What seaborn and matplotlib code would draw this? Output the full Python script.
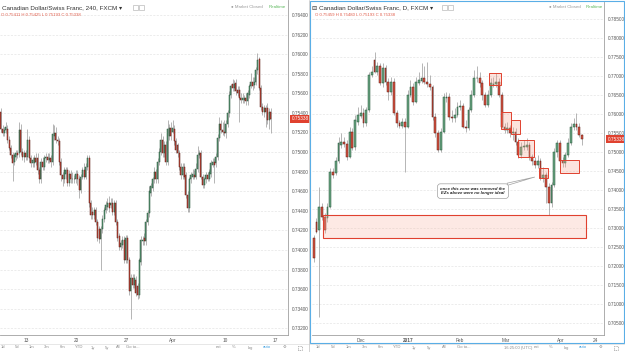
import numpy as np
import matplotlib
matplotlib.use('Agg')
import matplotlib.pyplot as plt
from matplotlib.patches import Rectangle
from matplotlib.lines import Line2D
from matplotlib.colors import to_rgba
from matplotlib.ticker import FormatStrFormatter
import seaborn as sns

# CAD/CHF 240 (4h candles, left panel)
left_open = [.7541, .7524, .7519, .7523, .7524, .7512, .7504, .7497, .7490, .7495,
             .7499, .7499, .7523, .7500, .7495, .7499, .7495, .7512, .7494, .7489,
             .7489, .7494, .7494, .7482, .7472, .7490, .7485, .7494, .7495, .7492,
             .7494, .7490, .7516, .7519, .7512, .7511, .7490, .7477, .7473, .7478,
             .7482, .7468, .7478, .7472, .7473, .7472, .7478, .7472, .7461, .7475,
             .7482, .7475, .7485, .7494, .7448, .7439, .7436, .7441, .7429, .7421,
             .7411, .7421, .7432, .7441, .7444, .7448, .7446, .7448, .7439, .7448,
             .7429, .7414, .7403, .7405, .7410, .7390, .7412, .7390, .7358, .7371,
             .7364, .7369, .7363, .7354, .7388, .7409, .7412, .7409, .7429, .7438,
             .7458, .7463, .7472, .7480, .7472, .7490, .7500, .7512, .7499, .7507,
             .7490, .7516, .7525, .7521, .7524, .7511, .7507, .7499, .7485, .7477,
             .7485, .7477, .7456, .7443, .7472, .7475, .7477, .7475, .7483, .7497,
             .7499, .7475, .7466, .7472, .7477, .7473, .7478, .7487, .7490, .7489,
             .7495, .7514, .7529, .7523, .7521, .7519, .7529, .7540, .7558, .7570,
             .7565, .7571, .7563, .7563, .7555, .7553, .7553, .7555, .7552, .7558,
             .7567, .7572, .7569, .7572, .7584, .7595, .7565, .7546, .7541, .7545,
             .7545, .7533, .7541]
left_high = [.7545, .7528, .7526, .7531, .7528, .7516, .7507, .7500, .7499, .7502,
             .7502, .7531, .7529, .7504, .7502, .7502, .7524, .7516, .7497, .7495,
             .7497, .7499, .7499, .7485, .7494, .7495, .7497, .7499, .7499, .7499,
             .7497, .7529, .7528, .7526, .7516, .7514, .7494, .7480, .7485, .7485,
             .7485, .7482, .7482, .7480, .7477, .7482, .7482, .7477, .7478, .7485,
             .7489, .7489, .7497, .7497, .7451, .7444, .7444, .7444, .7432, .7424,
             .7424, .7436, .7444, .7450, .7453, .7455, .7453, .7453, .7451, .7451,
             .7432, .7417, .7410, .7414, .7414, .7415, .7415, .7393, .7375, .7375,
             .7375, .7373, .7366, .7392, .7414, .7414, .7417, .7432, .7441, .7465,
             .7468, .7475, .7485, .7483, .7494, .7504, .7519, .7516, .7511, .7511,
             .7533, .7529, .7531, .7533, .7528, .7514, .7509, .7502, .7489, .7489,
             .7489, .7480, .7460, .7475, .7480, .7483, .7482, .7489, .7506, .7502,
             .7502, .7478, .7475, .7480, .7480, .7483, .7492, .7494, .7494, .7499,
             .7518, .7536, .7533, .7531, .7533, .7533, .7543, .7562, .7570, .7575,
             .7574, .7575, .7567, .7567, .7560, .7560, .7558, .7560, .7563, .7570,
             .7581, .7577, .7577, .7587, .7601, .7597, .7569, .7550, .7548, .7548,
             .7550, .7545, .7545]
left_low = [.7521, .7516, .7516, .7519, .7509, .7502, .7494, .7470, .7487, .7492,
            .7494, .7495, .7497, .7492, .7490, .7492, .7492, .7490, .7485, .7485,
            .7485, .7487, .7478, .7468, .7468, .7482, .7482, .7490, .7489, .7489,
            .7485, .7487, .7512, .7509, .7507, .7487, .7470, .7465, .7468, .7473,
            .7465, .7465, .7468, .7468, .7468, .7468, .7466, .7453, .7458, .7472,
            .7472, .7472, .7482, .7444, .7432, .7432, .7432, .7426, .7409, .7407,
            .7380, .7417, .7429, .7438, .7441, .7439, .7443, .7436, .7436, .7426,
            .7409, .7400, .7400, .7402, .7387, .7387, .7387, .7354, .7330, .7361,
            .7361, .7353, .7350, .7351, .7385, .7405, .7405, .7405, .7426, .7434,
            .7455, .7460, .7468, .7468, .7468, .7487, .7497, .7495, .7495, .7487,
            .7487, .7512, .7512, .7519, .7507, .7499, .7495, .7482, .7473, .7473,
            .7472, .7453, .7439, .7439, .7468, .7472, .7472, .7472, .7480, .7494,
            .7472, .7463, .7463, .7468, .7470, .7470, .7475, .7485, .7468, .7485,
            .7492, .7511, .7519, .7517, .7516, .7514, .7526, .7536, .7555, .7562,
            .7562, .7558, .7557, .7531, .7550, .7550, .7550, .7548, .7548, .7555,
            .7565, .7563, .7565, .7569, .7580, .7563, .7543, .7538, .7536, .7526,
            .7529, .7524, .7519]
left_close = [.7524, .7519, .7523, .7526, .7512, .7504, .7497, .7489, .7497, .7499,
              .7497, .7523, .7500, .7495, .7499, .7495, .7512, .7494, .7489, .7492,
              .7494, .7490, .7482, .7472, .7490, .7485, .7494, .7495, .7492, .7494,
              .7490, .7518, .7519, .7512, .7511, .7490, .7477, .7473, .7482, .7482,
              .7468, .7478, .7472, .7473, .7472, .7478, .7472, .7461, .7475, .7482,
              .7475, .7485, .7494, .7448, .7436, .7436, .7441, .7429, .7412, .7411,
              .7421, .7432, .7441, .7446, .7448, .7443, .7448, .7439, .7448, .7429,
              .7412, .7403, .7407, .7410, .7390, .7412, .7390, .7358, .7371, .7364,
              .7371, .7356, .7354, .7390, .7410, .7410, .7409, .7429, .7438, .7460,
              .7465, .7472, .7480, .7472, .7490, .7500, .7512, .7499, .7507, .7490,
              .7524, .7525, .7516, .7525, .7511, .7502, .7499, .7485, .7477, .7485,
              .7475, .7456, .7443, .7472, .7477, .7478, .7475, .7483, .7497, .7499,
              .7475, .7466, .7472, .7477, .7473, .7480, .7489, .7490, .7487, .7495,
              .7514, .7529, .7523, .7521, .7519, .7529, .7540, .7558, .7567, .7565,
              .7570, .7562, .7560, .7555, .7553, .7555, .7555, .7552, .7560, .7567,
              .7572, .7567, .7572, .7584, .7594, .7565, .7546, .7541, .7545, .7541,
              .7533, .7541, .7534]
left_tick_pos = [15.1, 45.1, 75.1, 103.3, 134.5, 164.5]
left_tick_labels = ['13', '20', '27', 'Apr', '10', '17']
left_levels = [0.732, 0.734, 0.736, 0.738, 0.740, 0.742, 0.744, 0.746, 0.748,
               0.750, 0.752, 0.754, 0.756, 0.758, 0.760, 0.762, 0.764]

# CAD/CHF D (daily candles, right panel)
right_open = [.7273, .7317, .7295, .7356, .7330, .7325, .7356, .7448, .7444, .7475,
              .7518, .7527, .7521, .7488, .7553, .7514, .7580, .7595, .7602, .7575,
              .7611, .7703, .7742, .7711, .7725, .7681, .7720, .7685, .7659, .7685,
              .7602, .7575, .7568, .7580, .7567, .7650, .7670, .7632, .7682, .7688,
              .7694, .7685, .7679, .7670, .7593, .7549, .7505, .7553, .7641, .7646,
              .7593, .7589, .7597, .7618, .7621, .7567, .7564, .7611, .7650, .7694,
              .7696, .7681, .7650, .7624, .7650, .7675, .7679, .7685, .7650, .7567,
              .7558, .7562, .7549, .7553, .7527, .7492, .7514, .7514, .7518, .7488,
              .7475, .7466, .7475, .7431, .7439, .7409, .7365, .7413, .7501, .7523,
              .7475, .7470, .7492, .7523, .7567, .7574, .7567, .7546]
right_high = [.7282, .7325, .7409, .7365, .7339, .7365, .7457, .7457, .7488, .7540,
              .7549, .7540, .7532, .7567, .7562, .7597, .7619, .7624, .7615, .7619,
              .7711, .7725, .7764, .7738, .7733, .7733, .7729, .7694, .7698, .7694,
              .7611, .7584, .7589, .7589, .7663, .7689, .7681, .7698, .7711, .7733,
              .7725, .7738, .7703, .7676, .7602, .7558, .7562, .7654, .7659, .7654,
              .7611, .7615, .7632, .7637, .7628, .7584, .7619, .7663, .7716, .7725,
              .7711, .7689, .7659, .7663, .7694, .7698, .7707, .7694, .7659, .7575,
              .7580, .7571, .7567, .7562, .7536, .7527, .7532, .7536, .7527, .7496,
              .7488, .7492, .7483, .7461, .7448, .7418, .7422, .7510, .7532, .7532,
              .7488, .7501, .7536, .7575, .7589, .7602, .7575, .7548]
right_low = [.7211, .7286, .7067, .7321, .7286, .7317, .7352, .7431, .7439, .7470,
             .7510, .7514, .7479, .7483, .7505, .7505, .7571, .7589, .7567, .7568,
             .7606, .7698, .7707, .7703, .7676, .7672, .7676, .7637, .7650, .7597,
             .7567, .7562, .7562, .7448, .7562, .7646, .7624, .7628, .7676, .7681,
             .7679, .7672, .7663, .7584, .7540, .7501, .7501, .7549, .7632, .7584,
             .7580, .7580, .7593, .7611, .7562, .7553, .7558, .7606, .7646, .7685,
             .7672, .7637, .7619, .7619, .7646, .7670, .7672, .7646, .7562, .7549,
             .7549, .7540, .7532, .7518, .7483, .7483, .7505, .7505, .7479, .7466,
             .7457, .7457, .7426, .7422, .7365, .7334, .7356, .7409, .7488, .7466,
             .7461, .7461, .7488, .7518, .7558, .7558, .7540, .7519]
right_close = [.7220, .7290, .7356, .7330, .7295, .7356, .7448, .7439, .7475, .7523,
               .7527, .7521, .7488, .7553, .7510, .7584, .7597, .7602, .7575, .7611,
               .7703, .7711, .7711, .7725, .7681, .7720, .7685, .7659, .7685, .7602,
               .7575, .7568, .7580, .7567, .7650, .7670, .7632, .7685, .7689, .7694,
               .7685, .7679, .7670, .7593, .7549, .7505, .7553, .7644, .7646, .7593,
               .7589, .7597, .7619, .7621, .7567, .7564, .7611, .7650, .7694, .7696,
               .7681, .7650, .7624, .7650, .7681, .7679, .7685, .7650, .7567, .7558,
               .7562, .7549, .7553, .7527, .7492, .7514, .7516, .7518, .7488, .7475,
               .7466, .7475, .7431, .7439, .7409, .7365, .7413, .7501, .7523, .7475,
               .7470, .7492, .7523, .7567, .7574, .7567, .7546, .7534]
right_tick_pos = [17.0, 34.3, 52.7, 69.4, 89.3, 101.9]
right_tick_labels = ['Dec', '2017', 'Feb', 'Mar', 'Apr', '24']
right_levels = [0.705, 0.710, 0.715, 0.720, 0.725, 0.730, 0.735, 0.740, 0.745,
                0.750, 0.755, 0.760, 0.765, 0.770, 0.775, 0.780, 0.785]

last_price = 0.75338
left_ohlc = 'O 0.75411 H 0.75425 L 0.75193 C 0.75338'
right_ohlc = 'O 0.75459 H 0.75480 L 0.75193 C 0.75338'

# zones drawn on the daily chart: (first bar, last bar, low, high)
demand_zone = (3.5, 98.4, 0.7273, 0.7334)
supply_boxes = [(63.5, 67.9, 0.7676, 0.7707),
                (67.6, 71.3, 0.7560, 0.7606),
                (71.3, 74.5, 0.7547, 0.7584),
                (73.9, 79.7, 0.7488, 0.7532),
                (81.4, 84.9, 0.7431, 0.7457),
                (88.9, 95.8, 0.7444, 0.7479)]
note_text = 'once this zone was removed the\nEZs above were no longer ideal'
note_xy = (57.6, 0.7397)
note_target = (79.9, 0.7434)

sns.set_theme(style='white')
plt.rcParams['font.family'] = ['Liberation Sans', 'DejaVu Sans']

UP_FILL, UP_EDGE = '#6ba583', '#225437'
DN_FILL, DN_EDGE = '#d75442', '#5b1a13'
WICK = '#8c8c8c'
W, H = 625, 352

fig = plt.figure(figsize=(6.25, 3.52), dpi=100)
fig.patch.set_facecolor('white')


def rect(x0, y0, x1, y1):
    return [x0 / W, 1 - y1 / H, (x1 - x0) / W, (y1 - y0) / H]


def ftext(x, y, s, **kw):
    kw.setdefault('va', 'center')
    fig.text(x / W, 1 - y / H, s, **kw)


def fline(x0, y0, x1, y1, **kw):
    fig.add_artist(Line2D([x0 / W, x1 / W], [1 - y0 / H, 1 - y1 / H],
                          transform=fig.transFigure, **kw))


def candles(ax, o, h, l, c, width, min_body):
    o, h, l, c = map(np.asarray, (o, h, l, c))
    x = np.arange(len(o))
    up = c >= o
    ax.vlines(x, l, h, color=WICK, lw=0.45, zorder=2)
    bottom = np.minimum(o, c)
    height = np.maximum(np.abs(c - o), min_body)
    ax.bar(x[up], height[up], bottom=bottom[up], width=width, color=UP_FILL,
           edgecolor=UP_EDGE, linewidth=0.35, zorder=3)
    ax.bar(x[~up], height[~up], bottom=bottom[~up], width=width, color=DN_FILL,
           edgecolor=DN_EDGE, linewidth=0.35, zorder=3)


def style_axis(ax, levels, tick_pos, tick_labels):
    ax.set_facecolor('white')
    ax.yaxis.tick_right()
    ax.set_yticks(levels)
    ax.yaxis.set_major_formatter(FormatStrFormatter('%.5f'))
    ax.set_xticks(tick_pos)
    ax.set_xticklabels(tick_labels)
    ax.tick_params(axis='y', labelsize=3.4, colors='#555555', length=1.5, width=0.4, pad=1.2)
    ax.tick_params(axis='x', labelsize=3.4, colors='#555555', length=0, pad=2)
    ax.grid(axis='y', color='#e4e4e4', lw=0.5, ls=(0, (3, 2)))
    ax.set_axisbelow(True)
    sns.despine(ax=ax, left=True, top=True, right=False, bottom=False)
    for side in ('right', 'bottom'):
        ax.spines[side].set_color('#a0a0a0')
        ax.spines[side].set_linewidth(0.6)
    ax.text(1.012, last_price, '%.5f' % last_price, transform=ax.get_yaxis_transform(),
            ha='left', va='center', fontsize=3.4, color='white', clip_on=False, zorder=10,
            bbox=dict(boxstyle='square,pad=0.3', fc='#e0412f', ec='none'))


# left panel
axL = fig.add_axes(rect(0, 0, 288, 335))
candles(axL, left_open, left_high, left_low, left_close, 0.65, 0.00004)
axL.set_xlim(-0.5, 172.3)
axL.set_ylim(0.73132, 0.76553)
style_axis(axL, left_levels, left_tick_pos, left_tick_labels)

# right panel
axR = fig.add_axes(rect(312, 2, 604, 335))
candles(axR, right_open, right_high, right_low, right_close, 0.65, 0.0001)
axR.set_xlim(-0.6, 104.97)
axR.set_ylim(0.70184, 0.78947)
style_axis(axR, right_levels, right_tick_pos, right_tick_labels)
axR.get_xticklabels()[1].set_fontweight('bold')

x0, x1, y0, y1 = demand_zone
axR.add_patch(Rectangle((x0, y0), x1 - x0, y1 - y0, fc=to_rgba('#f9b9a6', 0.3),
                        ec='#e0412f', lw=0.8, zorder=4))
for x0, x1, y0, y1 in supply_boxes:
    axR.add_patch(Rectangle((x0, y0), x1 - x0, y1 - y0, fc=to_rgba('#f6a58f', 0.3),
                            ec='#e0412f', lw=0.7, zorder=4))

axR.annotate(note_text, xy=note_target, xytext=note_xy, ha='center', va='center',
             fontsize=3.1, fontweight='bold', fontstyle='italic', color='#222222', zorder=6,
             bbox=dict(boxstyle='round,pad=0.7', fc='white', ec='#a0a0a0', lw=0.5),
             arrowprops=dict(arrowstyle='wedge,tail_width=0.5', fc='white', ec='#a0a0a0',
                             lw=0.5, relpos=(0.85, 0.95), shrinkA=0, shrinkB=0))

# headers
ftext(2, 7.5, 'Canadian Dollar/Swiss Franc, 240, FXCM \u25be', fontsize=4.5, color='#333333')
ftext(312, 7.5, '\u229f Canadian Dollar/Swiss Franc, D, FXCM \u25be', fontsize=4.5, color='#333333')
for bx in (133, 139, 442, 448):
    fig.add_artist(Rectangle((bx / W, 1 - 10 / H), 4.5 / W, 5 / H, transform=fig.transFigure,
                             fill=False, ec='#bbbbbb', lw=0.5))
ftext(1, 15.5, left_ohlc, fontsize=3.1, color='#e05a48')
ftext(315, 15.5, right_ohlc, fontsize=3.1, color='#e05a48')
for mx, rx in ((263, 286), (581, 603)):
    ftext(mx, 7.5, '\u25cf Market Closed', ha='right', fontsize=3.2, color='#9a9a9a')
    ftext(rx, 7.5, 'Realtime', ha='right', fontsize=3.2, color='#5cb85c')

# bottom toolbars
ranges = ['1d', '5d', '1m', '3m', '6m', 'YTD', '1y', '5y', 'All', 'Go to...']
tools = ['ext', '%', 'log', 'auto', '\u2699']
layouts = [([3, 17, 32, 47, 63, 79, 93, 107, 118, 133], [219, 234, 250, 267, 284], 298),
           ([318, 333, 349, 365, 381, 397, 414, 429, 444, 464], [537, 551, 566, 583, 600], 614)]
for range_x, tool_x, full_x in layouts:
    for s, x in zip(ranges, range_x):
        ftext(x, 347.5, s, ha='center', fontsize=3, color='#8a8a8a')
    for s, x in zip(tools, tool_x):
        ftext(x, 347.5, s, ha='center', fontsize=3,
              color='#3a9ee0' if s == 'auto' else '#8a8a8a')
    # fullscreen icon: dashed square standing for the corner brackets
    fig.add_artist(Rectangle((full_x / W, 1 - 349.5 / H), 4 / W, 4 / H, transform=fig.transFigure,
                             fill=False, ec='#8a8a8a', lw=0.5, ls=(0, (1.2, 1.2))))
ftext(518, 347.5, '16:25:00 (UTC)', ha='center', fontsize=3, color='#8a8a8a')

fline(0, 343.5, 625, 343.5, color='#dddddd', lw=0.5)
fline(309, 0, 309, 352, color='#cccccc', lw=0.6)
fig.add_artist(Rectangle((310 / W, 1 - 343 / H), 314 / W, 342 / H, transform=fig.transFigure,
                         fill=False, ec='#5aaee6', lw=0.8))

fig.savefig('out.png', dpi=100, facecolor='white')
